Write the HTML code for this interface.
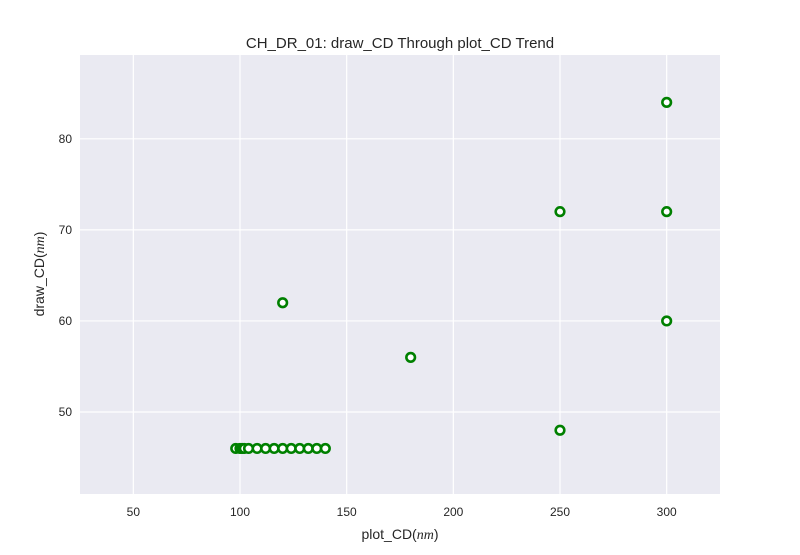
<!DOCTYPE html>
<html><head><meta charset="utf-8"><style>
body{margin:0;background:#fff;font-family:"Liberation Sans",sans-serif;}
</style></head><body>
<svg width="800" height="550" id="chart">
<rect x="80" y="55" width="640" height="439" fill="#eaeaf2"/>
<g id="grid"></g><g id="marks"></g><g id="ticks"></g>
<text x="400" y="48" text-anchor="middle" font-size="15" fill="#262626">CH_DR_01: draw_CD Through plot_CD Trend</text>
<text x="400" y="539" text-anchor="middle" font-size="14" fill="#262626">plot_CD(<tspan font-style="italic" font-family="Liberation Serif">nm</tspan>)</text>
<text transform="translate(44,274) rotate(-90)" text-anchor="middle" font-size="14" fill="#262626">draw_CD(<tspan font-style="italic" font-family="Liberation Serif">nm</tspan>)</text>
</svg>
<script>
const xVals=[98,100,101,102,104,108,112,116,120,124,128,132,136,140,120,180,250,250,300,300,300];
const yVals=[46,46,46,46,46,46,46,46,46,46,46,46,46,46,62,56,72,48,84,72,60];
const xTicks=[50,100,150,200,250,300];
const yTicks=[50,60,70,80];
const NS="http://www.w3.org/2000/svg";
const L=80,R=720,T=55,B=494;
const xs=v=>L+(v-25)/(325-25)*(R-L);
const ys=v=>B-(v-41)/(89.2-41)*(B-T);
const grid=document.getElementById('grid'),marks=document.getElementById('marks'),ticks=document.getElementById('ticks');
function mk(tag,a){const e=document.createElementNS(NS,tag);for(const k in a)e.setAttribute(k,a[k]);return e;}
xTicks.forEach(t=>{
 const l=mk('line',{x1:xs(t),x2:xs(t),y1:T,y2:B,stroke:'#fff','stroke-width':1.2});
 
 
 grid.appendChild(l);
 const tx=mk('text',{x:xs(t),y:B+22,'text-anchor':'middle','font-size':12,fill:'#262626'});
 
 
 tx.textContent=t;ticks.appendChild(tx);
});
yTicks.forEach(t=>{
 const l=mk('line',{x1:L,x2:R,y1:ys(t),y2:ys(t),stroke:'#fff','stroke-width':1.2});
 
 
 grid.appendChild(l);
 const tx=mk('text',{x:L-8,y:ys(t)+4,'text-anchor':'end','font-size':12,fill:'#262626'});
 
 
 tx.textContent=t;ticks.appendChild(tx);
});
xVals.forEach((v,i)=>{
 const c=mk('circle',{cx:xs(v),cy:ys(yVals[i]),r:4.3,fill:'#fff',stroke:'#008000','stroke-width':2.6});
 
 
 marks.appendChild(c);
});
</script>
</body></html>
